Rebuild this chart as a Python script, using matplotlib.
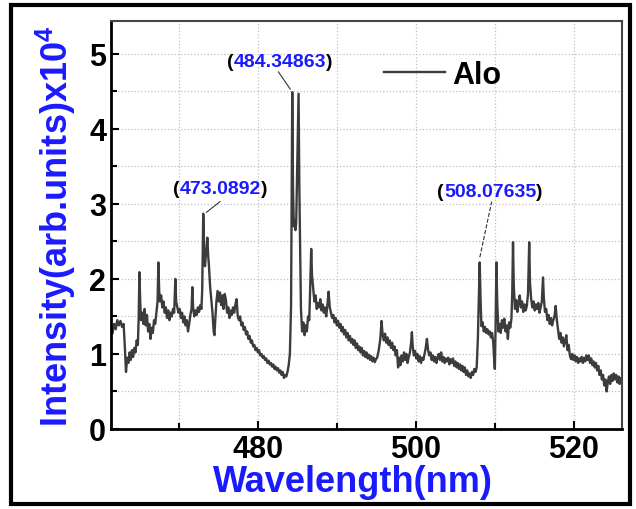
import numpy as np
import matplotlib
matplotlib.use("Agg")
import matplotlib.pyplot as plt
from matplotlib.offsetbox import TextArea, HPacker, AnnotationBbox
from matplotlib.patches import Rectangle

plt.rcParams['font.family'] = ['Liberation Sans', 'DejaVu Sans']
plt.rcParams['font.weight'] = 'bold'
plt.rcParams['mathtext.fontset'] = 'custom'
plt.rcParams['mathtext.bf'] = 'Liberation Sans:bold'
plt.rcParams['mathtext.rm'] = 'Liberation Sans:bold'

# spectrum (wavelength nm, intensity x1e4)
wl = [461.6, 461.8, 462.0, 462.2, 462.4, 462.6, 462.8, 463.0, 463.15, 463.3,
      463.45, 463.6, 463.75, 463.9, 464.05, 464.2, 464.35, 464.5, 464.65, 464.8,
      464.9, 465.0, 465.1, 465.2, 465.35, 465.5, 465.65, 465.8, 465.95, 466.1,
      466.25, 466.4, 466.55, 466.7, 466.85, 467.0, 467.15, 467.3, 467.4, 467.5,
      467.6, 467.75, 467.9, 468.05, 468.2, 468.35, 468.5, 468.65, 468.8, 468.95,
      469.1, 469.25, 469.4, 469.55, 469.65, 469.8, 469.95, 470.1, 470.25, 470.4,
      470.55, 470.7, 470.85, 471.0, 471.15, 471.3, 471.45, 471.6, 471.7, 471.8,
      471.95, 472.1, 472.25, 472.4, 472.55, 472.7, 472.85, 472.95, 473.08, 473.2,
      473.3, 473.4, 473.5, 473.6, 473.7, 473.8, 473.95, 474.1, 474.25, 474.4,
      474.5, 474.6, 474.75, 474.9, 475.05, 475.2, 475.35, 475.5, 475.65, 475.8,
      475.95, 476.1, 476.25, 476.4, 476.55, 476.7, 476.85, 477.0, 477.15, 477.3,
      477.45, 477.6, 477.75, 477.9, 478.05, 478.2, 478.35, 478.5, 478.65, 478.8,
      478.95, 479.1, 479.25, 479.4, 479.55, 479.7, 479.85, 480.0, 480.15, 480.3,
      480.45, 480.6, 480.75, 480.9, 481.05, 481.2, 481.35, 481.5, 481.65, 481.8,
      481.95, 482.1, 482.25, 482.4, 482.55, 482.7, 482.85, 483.0, 483.15, 483.3,
      483.45, 483.6, 483.75, 483.9, 484.05, 484.2, 484.35, 484.45, 484.55, 484.65,
      484.75, 484.85, 485.0, 485.15, 485.25, 485.35, 485.45, 485.6, 485.75, 485.9,
      486.05, 486.2, 486.35, 486.5, 486.6, 486.75, 486.85, 487.0, 487.15, 487.3,
      487.45, 487.6, 487.75, 487.9, 488.05, 488.2, 488.35, 488.5, 488.65, 488.8,
      488.95, 489.1, 489.25, 489.4, 489.55, 489.7, 489.85, 490.0, 490.15, 490.3,
      490.45, 490.6, 490.75, 490.9, 491.05, 491.2, 491.35, 491.5, 491.65, 491.8,
      491.95, 492.1, 492.25, 492.4, 492.55, 492.7, 492.85, 493.0, 493.15, 493.3,
      493.45, 493.6, 493.75, 493.9, 494.05, 494.2, 494.35, 494.5, 494.65, 494.8,
      494.95, 495.1, 495.3, 495.5, 495.65, 495.8, 495.95, 496.1, 496.25, 496.4,
      496.55, 496.7, 496.85, 497.0, 497.15, 497.3, 497.45, 497.6, 497.75, 497.9,
      498.05, 498.2, 498.35, 498.5, 498.65, 498.8, 498.95, 499.1, 499.25, 499.4,
      499.5, 499.6, 499.75, 499.9, 500.05, 500.2, 500.35, 500.5, 500.65, 500.8,
      500.95, 501.1, 501.25, 501.4, 501.55, 501.7, 501.85, 502.0, 502.15, 502.3,
      502.45, 502.6, 502.75, 502.9, 503.05, 503.2, 503.35, 503.5, 503.65, 503.8,
      503.95, 504.1, 504.25, 504.4, 504.55, 504.7, 504.85, 505.0, 505.15, 505.3,
      505.45, 505.6, 505.75, 505.9, 506.05, 506.2, 506.35, 506.5, 506.65, 506.8,
      506.95, 507.1, 507.25, 507.4, 507.55, 507.7, 507.85, 508.08, 508.2, 508.3,
      508.45, 508.6, 508.75, 508.9, 509.05, 509.2, 509.35, 509.5, 509.65, 509.8,
      509.9, 510.0, 510.1, 510.2, 510.3, 510.45, 510.6, 510.75, 510.9, 511.05,
      511.2, 511.35, 511.5, 511.65, 511.8, 511.95, 512.1, 512.2, 512.3, 512.4,
      512.55, 512.7, 512.85, 513.0, 513.15, 513.3, 513.45, 513.6, 513.75, 513.9,
      514.05, 514.2, 514.35, 514.45, 514.6, 514.75, 514.9, 515.05, 515.2, 515.35,
      515.5, 515.65, 515.8, 515.95, 516.1, 516.2, 516.35, 516.5, 516.65, 516.8,
      516.95, 517.1, 517.25, 517.4, 517.55, 517.7, 517.85, 518.0, 518.15, 518.3,
      518.45, 518.6, 518.75, 518.9, 519.05, 519.2, 519.35, 519.5, 519.65, 519.8,
      519.95, 520.1, 520.25, 520.4, 520.55, 520.7, 520.85, 521.0, 521.15, 521.3,
      521.45, 521.6, 521.75, 521.9, 522.05, 522.2, 522.35, 522.5, 522.65, 522.8,
      522.95, 523.1, 523.25, 523.4, 523.55, 523.7, 523.85, 524.0, 524.15, 524.3,
      524.45, 524.6, 524.75, 524.9, 525.05, 525.2, 525.35, 525.5, 525.65, 525.8,
      525.95, 526.1]
inten = [1.28, 1.40, 1.33, 1.45, 1.38, 1.44, 1.36, 1.40, 1.10, 0.76,
         0.95, 0.88, 1.02, 0.92, 1.05, 0.96, 1.08, 1.02, 1.18, 1.12,
         1.45, 2.09, 1.70, 1.45, 1.55, 1.40, 1.60, 1.38, 1.52, 1.30,
         1.40, 1.20, 1.35, 1.28, 1.45, 1.40, 1.55, 1.70, 2.22, 1.85,
         1.70, 1.78, 1.62, 1.70, 1.55, 1.62, 1.48, 1.58, 1.45, 1.55,
         1.50, 1.60, 1.55, 2.00, 1.70, 1.62, 1.55, 1.60, 1.48, 1.55,
         1.42, 1.50, 1.38, 1.45, 1.30, 1.40, 1.52, 1.60, 1.89, 1.62,
         1.50, 1.58, 1.52, 1.62, 1.56, 1.65, 1.60, 1.85, 2.87, 2.40,
         2.17, 2.30, 2.40, 2.55, 2.32, 2.18, 1.90, 1.73, 1.55, 1.30,
         1.25, 1.45, 1.70, 1.84, 1.70, 1.82, 1.65, 1.78, 1.60, 1.80,
         1.72, 1.55, 1.62, 1.48, 1.58, 1.52, 1.62, 1.55, 1.66, 1.73,
         1.50, 1.45, 1.50, 1.38, 1.42, 1.32, 1.36, 1.26, 1.30, 1.20,
         1.24, 1.15, 1.18, 1.10, 1.12, 1.05, 1.08, 1.02, 1.05, 0.98,
         1.00, 0.95, 0.97, 0.92, 0.94, 0.88, 0.91, 0.86, 0.88, 0.83,
         0.86, 0.80, 0.83, 0.78, 0.81, 0.75, 0.78, 0.72, 0.76, 0.68,
         0.72, 0.70, 0.76, 0.85, 1.00, 1.64, 4.49, 3.20, 2.70, 2.78,
         2.65, 2.75, 3.60, 4.47, 3.20, 2.40, 1.60, 1.30, 1.42, 1.25,
         1.38, 1.30, 1.50, 1.45, 1.80, 2.40, 2.05, 1.87, 1.70, 1.78,
         1.60, 1.68, 1.62, 1.73, 1.58, 1.66, 1.55, 1.62, 1.50, 1.65,
         1.83, 1.62, 1.55, 1.48, 1.52, 1.42, 1.48, 1.38, 1.44, 1.35,
         1.40, 1.30, 1.36, 1.26, 1.32, 1.22, 1.28, 1.18, 1.24, 1.15,
         1.20, 1.12, 1.18, 1.08, 1.14, 1.05, 1.10, 1.02, 1.08, 0.98,
         1.04, 0.96, 1.02, 0.94, 0.99, 0.92, 0.97, 0.90, 0.95, 0.89,
         0.93, 0.95, 1.05, 1.20, 1.44, 1.25, 1.18, 1.27, 1.15, 1.22,
         1.12, 1.18, 1.08, 1.15, 1.05, 1.10, 0.98, 1.05, 0.82, 0.95,
         0.85, 0.98, 0.90, 1.02, 0.92, 1.00, 0.88, 0.96, 1.02, 1.15,
         1.29, 1.10, 0.98, 1.04, 0.94, 1.00, 0.90, 0.97, 0.88, 0.95,
         0.92, 1.00, 1.08, 1.20, 1.05, 0.98, 1.02, 0.92, 0.98, 0.90,
         0.96, 0.88, 0.95, 1.00, 0.92, 1.02, 0.90, 0.96, 0.88, 0.94,
         0.90, 0.95, 0.86, 0.93, 0.88, 0.94, 0.84, 0.90, 0.82, 0.88,
         0.80, 0.86, 0.78, 0.84, 0.76, 0.82, 0.72, 0.78, 0.70, 0.74,
         0.68, 0.76, 0.72, 0.80, 0.76, 0.82, 1.20, 2.22, 1.70, 1.37,
         1.42, 1.30, 1.36, 1.28, 1.33, 1.26, 1.30, 1.22, 1.28, 1.15,
         0.95, 0.80, 1.40, 2.22, 1.70, 1.30, 1.40, 1.28, 1.45, 1.35,
         1.47, 1.30, 1.38, 1.20, 1.42, 1.35, 1.47, 1.80, 2.49, 1.90,
         1.60, 1.72, 1.56, 1.68, 1.78, 1.62, 1.70, 1.56, 1.66, 1.58,
         1.64, 1.80, 2.49, 1.95, 1.73, 1.62, 1.70, 1.58, 1.66, 1.60,
         1.68, 1.55, 1.62, 1.70, 2.02, 1.75, 1.56, 1.60, 1.45, 1.52,
         1.40, 1.48, 1.38, 1.45, 1.50, 1.64, 1.45, 1.32, 1.20, 1.28,
         1.15, 1.22, 1.10, 1.18, 1.25, 1.05, 1.12, 0.98, 0.93, 1.00,
         0.92, 0.98, 0.90, 0.96, 0.88, 0.94, 0.90, 0.96, 0.88, 0.95,
         0.90, 0.98, 0.92, 0.98, 0.88, 0.94, 0.85, 0.90, 0.82, 0.88,
         0.78, 0.84, 0.72, 0.78, 0.66, 0.72, 0.58, 0.66, 0.50, 0.62,
         0.70, 0.60, 0.72, 0.64, 0.74, 0.66, 0.72, 0.62, 0.70, 0.60,
         0.68, 0.64]

peak_labels = ["473.0892", "484.34863", "508.07635"]
label_pos = [(475.2, 3.2), (482.8, 4.9), (509.4, 3.17)]
leader_start = [(473.5, 2.89), (484.1, 4.53), (508.1, 2.29)]
leader_end = [(475.2, 3.03), (482.6, 4.76), (509.6, 3.03)]

blue = '#1a1aff'

fig = plt.figure(figsize=(6.36, 5.10), dpi=100)
ax = fig.add_axes([0.1745, 0.157, 0.8035, 0.8])

ax.plot(wl, inten, color='#3c3c3c', lw=1.7, label='Alo')

ax.set_xlim(461.4, 526.1)
ax.set_ylim(0, 5.44)
ax.set_xticks([480, 500, 520])
ax.set_xticks([470, 490, 510], minor=True)
ax.set_yticks([0, 1, 2, 3, 4, 5])
ax.set_yticks([0.5, 1.5, 2.5, 3.5, 4.5], minor=True)
ax.tick_params(which='both', direction='in', top=False, right=False,
               labelsize=22, width=1.5)
ax.tick_params(which='major', length=6)
ax.tick_params(which='minor', length=4)
for lab in ax.get_xticklabels() + ax.get_yticklabels():
    lab.set_fontweight('bold')
ax.grid(which='both', color='#c0c0c0', linestyle=':', lw=0.9)

for s in ['left', 'bottom']:
    ax.spines[s].set_linewidth(2)
    ax.spines[s].set_color('black')
for s in ['top', 'right']:
    ax.spines[s].set_linewidth(1.5)
    ax.spines[s].set_color('#444444')

ax.set_xlabel('Wavelength(nm)', color=blue, fontsize=26, fontweight='bold', labelpad=0)
ax.xaxis.label.set_x(0.473)
ax.set_ylabel(r'Intensity(arb.units)x10$^{\mathbf{4}}$', color=blue,
              fontsize=26, fontweight='bold', labelpad=8)

# peak labels: black brackets, blue numbers
for i in range(3):
    parts = [TextArea('(', textprops=dict(color='black', fontsize=14, fontweight='bold')),
             TextArea(peak_labels[i], textprops=dict(color=blue, fontsize=14, fontweight='bold')),
             TextArea(')', textprops=dict(color='black', fontsize=14, fontweight='bold'))]
    box = HPacker(children=parts, align='baseline', pad=0, sep=0)
    ab = AnnotationBbox(box, label_pos[i], xycoords='data', frameon=False, pad=0)
    ax.add_artist(ab)
    ls = '--' if i == 2 else '-'
    ax.plot([leader_start[i][0], leader_end[i][0]], [leader_start[i][1], leader_end[i][1]],
            color='#333333', lw=0.8, ls=ls)

leg = ax.legend(loc='upper left', bbox_to_anchor=(0.51, 0.935), frameon=False,
                handlelength=2.0, handletextpad=0.25, borderaxespad=0,
                prop={'weight': 'bold', 'size': 22})

fig.patches.append(Rectangle((0.017, 0.01), 0.973, 0.978, transform=fig.transFigure,
                             fill=False, edgecolor='black', lw=3))

fig.savefig('out.png', dpi=100)
